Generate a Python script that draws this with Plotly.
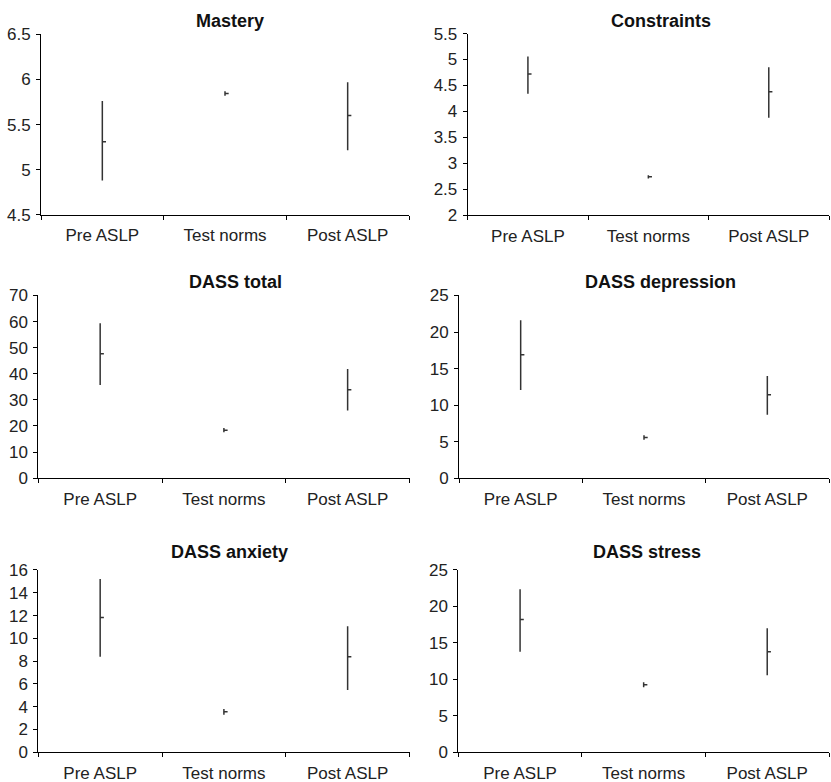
import plotly.graph_objects as go

W, H = 831, 800

categories = ["Pre ASLP", "Test norms", "Post ASLP"]

titles = ["Mastery", "Constraints", "DASS total", "DASS depression", "DASS anxiety", "DASS stress"]

mastery_high = [5.76, 5.87, 5.97]
mastery_low = [4.88, 5.82, 5.215]
mastery_mean = [5.31, 5.845, 5.60]

constraints_high = [5.06, 2.77, 4.85]
constraints_low = [4.34, 2.71, 3.88]
constraints_mean = [4.72, 2.74, 4.38]

total_high = [59.4, 19.2, 41.8]
total_low = [35.7, 17.6, 25.9]
total_mean = [47.7, 18.4, 33.9]

depression_high = [21.6, 5.9, 14.0]
depression_low = [12.1, 5.3, 8.7]
depression_mean = [16.9, 5.6, 11.45]

anxiety_high = [15.2, 3.8, 11.07]
anxiety_low = [8.38, 3.3, 5.47]
anxiety_mean = [11.83, 3.55, 8.38]

stress_high = [22.36, 9.6, 17.0]
stress_low = [13.8, 8.9, 10.55]
stress_mean = [18.2, 9.27, 13.8]

y_ranges = [[4.5, 6.5], [2, 5.5], [0, 70], [0, 25], [0, 16], [0, 25]]
y_dticks = [0.5, 0.5, 10, 5, 2, 5]

panels = [
    (mastery_high, mastery_low, mastery_mean),
    (constraints_high, constraints_low, constraints_mean),
    (total_high, total_low, total_mean),
    (depression_high, depression_low, depression_mean),
    (anxiety_high, anxiety_low, anxiety_mean),
    (stress_high, stress_low, stress_mean),
]

# target pixel boxes of plot areas in the picture: (x0, x1, ytop, ybottom)
boxes = [
    (41, 409, 33, 214),
    (467.7, 829, 32.3, 214.3),
    (38.3, 409.5, 294.7, 477.7),
    (459, 829, 294.7, 478),
    (38.3, 409.5, 569.7, 752.3),
    (458.3, 829, 569.7, 752.3),
]
title_pos = [(230, 20), (661, 20), (235, 281), (660, 281), (229, 552), (647, 552)]


def fy(y):
    # vertical pixel correction measured for the rendering pipeline
    return (y - 7.7) / 0.978


FONT = "Liberation Sans, Arial, sans-serif"
LINE_COLOR = "#333333"

fig = go.Figure()
shapes = []
annotations = []

for i, ((hi, lo, mn), box) in enumerate(zip(panels, boxes)):
    n = i + 1
    xa = "x" if n == 1 else f"x{n}"
    ya = "y" if n == 1 else f"y{n}"
    xs, ys = [], []
    for c, h, l in zip(categories, hi, lo):
        xs += [c, c, None]
        ys += [l, h, None]
    fig.add_trace(go.Scatter(x=xs, y=ys, mode="lines", xaxis=xa, yaxis=ya,
                             line=dict(color=LINE_COLOR, width=1.5),
                             showlegend=False, hoverinfo="skip"))
    for k, m in enumerate(mn):
        shapes.append(dict(type="line", xref=xa, yref=ya, x0=k, x1=k + 0.03,
                           y0=m, y1=m, line=dict(color=LINE_COLOR, width=1.5)))
    x0, x1, yt, yb = box
    axis_common = dict(showline=True, linecolor="black", linewidth=1,
                       showgrid=False, zeroline=False, ticks="outside",
                       ticklen=4, tickcolor="black", tickwidth=1,
                       tickfont=dict(family=FONT, size=17, color="#222222"))
    fig.layout[f"xaxis{'' if n == 1 else n}"] = dict(
        domain=[x0 / W, x1 / W], anchor=ya, type="category",
        categoryorder="array", categoryarray=categories,
        range=[-0.5, 2.5], tickson="boundaries", ticklabelstandoff=5,
        **axis_common)
    fig.layout[f"yaxis{'' if n == 1 else n}"] = dict(
        domain=[1 - fy(yb) / H, 1 - fy(yt) / H], anchor=xa,
        range=y_ranges[i], dtick=y_dticks[i], tick0=y_ranges[i][0],
        ticklabelstandoff=2, **axis_common)
    tx, ty = title_pos[i]
    annotations.append(dict(text=f"<b>{titles[i]}</b>", x=tx / W, y=1 - fy(ty) / H,
                            xref="paper", yref="paper", showarrow=False,
                            xanchor="center", yanchor="middle",
                            font=dict(family=FONT, size=18, color="#111111")))

fig.update_layout(width=W, height=H, margin=dict(l=0, r=0, t=0, b=0),
                  paper_bgcolor="white", plot_bgcolor="white",
                  shapes=shapes, annotations=annotations, showlegend=False)

post = ("var d=document.getElementById('{plot_id}');"
        "d.style.position='fixed';d.style.top='0px';d.style.left='0px';"
        "document.body.style.margin='0';document.body.style.overflow='hidden';")

fig.write_html("out.html", config={"displayModeBar": False}, post_script=post)
